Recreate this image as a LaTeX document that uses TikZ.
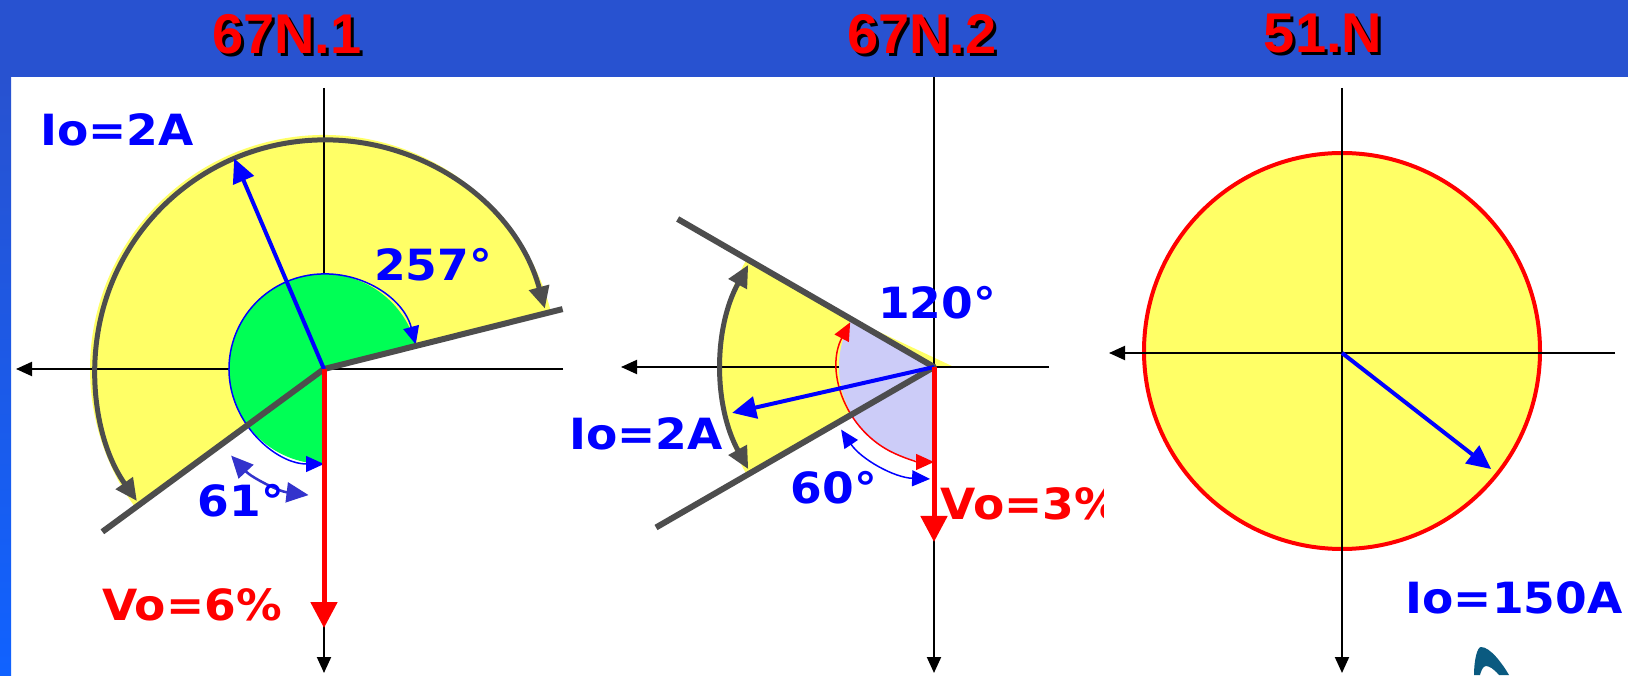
\documentclass[tikz,border=0pt]{standalone}
\usepackage{fontspec}
\usepackage{tikz}
\usetikzlibrary{arrows.meta, calc}
\newfontfamily\lblfont{DejaVu Sans}[FakeStretch=1.06]
\newfontfamily\ttlfont{Liberation Sans}
\definecolor{hdrblue}{RGB}{40, 82, 208}
\definecolor{edgeblue}{RGB}{16, 98, 255}
\definecolor{zoneyel}{RGB}{255, 255, 102}
\definecolor{zonegrn}{RGB}{0, 255, 85}
\definecolor{zonelav}{RGB}{204, 204, 248}
\definecolor{bndgray}{RGB}{77, 77, 77}
\definecolor{arcblue}{RGB}{51, 51, 204}
\definecolor{logoteal}{RGB}{10, 90, 128}
\tikzset{
  axisline/.style={draw=black, line width=2pt, -{Triangle[length=16pt, width=14pt]}},
  bound/.style={draw=bndgray, line width=6pt, line join=round},
  sweep/.style={draw=bndgray, line width=5pt,
    {Triangle[length=22pt, width=20pt]}-{Triangle[length=22pt, width=20pt]}},
  vecI/.style={draw=blue, line width=4pt, -{Triangle[length=24pt, width=22pt]}},
  vecV/.style={draw=red, line width=5pt, -{Triangle[length=26pt, width=26pt]}},
  thin arc/.style={line width=1.5pt,
    {Triangle[length=18pt, width=16pt]}-{Triangle[length=18pt, width=16pt]}},
  wide arc/.style={line width=2.5pt,
    {Triangle[length=22pt, width=20pt]}-{Triangle[length=22pt, width=20pt]}},
  lbl/.style={font=\lblfont\bfseries\fontsize{43}{48}\selectfont, text=blue, inner sep=0pt},
  ttl/.style={font=\ttlfont\bfseries\fontsize{56}{60}\selectfont, text=red, inner sep=0pt},
  ttlshadow/.style={ttl, text=black},
}

\begin{document}
\begin{tikzpicture}[x=1pt, y=1pt]

\fill[white] (0,0) rectangle (1628,675);
\useasboundingbox (0,0) rectangle (1628,675);
\shade[top color=hdrblue, bottom color=edgeblue] (0,0) rectangle (11,598);
\fill[hdrblue] (0,598) rectangle (1628,675);

\node[ttlshadow] (t1s) at (290,638) {67N.1};
\node[ttl] (t1) at (287,641) {67N.1};
\node[ttlshadow] (t2s) at (925,638) {67N.2};
\node[ttl] (t2) at (922,641) {67N.2};
\node[ttlshadow] (t3s) at (1326,638) {51.N};
\node[ttl] (t3) at (1323,641) {51.N};

% 67N.1
\coordinate (o1) at (324,306);
\coordinate (o1n) at (324,587);
\coordinate (o1s) at (324,2);
\coordinate (o1e) at (563,306);
\coordinate (o1w) at (16,306);
\coordinate (g1a) at ([shift={(14.1:246pt)}]o1);
\coordinate (g1b) at ([shift={(216.3:275pt)}]o1);
\coordinate (i1) at ([shift={(113.1:229pt)}]o1);
\coordinate (v1) at (324,47);

\fill[zoneyel] (o1) -- ([shift={(14.1:234pt)}]o1) arc[start angle=14.1, end angle=216.3, radius=234pt] -- cycle;
\draw[axisline] (o1n) -- (o1s);
\draw[axisline] (o1e) -- (o1w);
\fill[zonegrn] (o1) -- ([shift={(14.1:95pt)}]o1) arc[start angle=14.1, end angle=270, radius=95pt] -- cycle;
\draw[thin arc, blue] ([shift={(15:95pt)}]o1) arc[start angle=15, end angle=270, radius=95pt];
\draw[sweep] ([shift={(15.3:229pt)}]o1) arc[start angle=15.3, end angle=215.2, radius=229pt];
\draw[bound] (g1a) -- (o1) -- (g1b);
\draw[vecI] (o1) -- (i1);
\draw[vecV] (o1) -- (v1);
\draw[wide arc, arcblue] ([shift={(223:127pt)}]o1) arc[start angle=223, end angle=263, radius=127pt];

\node[lbl] (io1) at (117,545) {Io=2A};
\node[lbl] (ang1) at (433,410) {257°};
\node[lbl] (ang1b) at (241,174) {61°};
\node[lbl, text=red] (vo1) at (192,70) {Vo=6\%};

% 67N.2
\coordinate (o2) at (934,308);
\coordinate (o2n) at (934,598);
\coordinate (o2s) at (934,2);
\coordinate (o2e) at (1049,308);
\coordinate (o2w) at (621,308);
\coordinate (g2a) at ([shift={(150:296pt)}]o2);
\coordinate (g2b) at ([shift={(210:321pt)}]o2);
\coordinate (i2) at ([shift={(192.8:207pt)}]o2);
\coordinate (v2) at (934,133);

\fill[zoneyel] (o2) -- ([shift={(150:216pt)}]o2) arc[start angle=150, end angle=210, radius=216pt] -- cycle;
\fill[zoneyel] (o2) -- ++(20,0) -- ([shift={(150:100pt)}]o2) -- cycle;
\draw[axisline] (o2n) -- (o2s);
\draw[axisline] (o2e) -- (o2w);
\fill[zonelav] (o2) -- ([shift={(150:95pt)}]o2) arc[start angle=150, end angle=270, radius=95pt] -- cycle;
\draw[thin arc, red] ([shift={(152:95pt)}]o2) arc[start angle=152, end angle=270, radius=95pt];
\draw[sweep] ([shift={(151.2:212pt)}]o2) arc[start angle=151.2, end angle=208.8, radius=212pt];
\draw[bound] (g2a) -- (o2) -- (g2b);
\draw[vecI] (o2) -- (i2);
\draw[vecV] (o2) -- (v2);
\draw[thin arc, blue] ([shift={(214:112pt)}]o2) arc[start angle=214, end angle=268, radius=112pt];

\node[lbl] (ang2) at (937,372) {120°};
\node[lbl] (ang2b) at (834,187) {60°};
\node[lbl] (io2) at (646,241) {Io=2A};
\begin{scope}
\clip (900,100) rectangle (1103,250);
\node[lbl, text=red, anchor=west] (vo2) at (940,171) {Vo=3\%};
\end{scope}

% 51.N
\coordinate (o3) at (1342,322);
\coordinate (o3n) at (1342,587);
\coordinate (o3s) at (1342,2);
\coordinate (o3e) at (1615,322);
\coordinate (o3w) at (1109,322);
\coordinate (i3) at ([shift={(-37.9:189pt)}]o3);

\node[circle, draw=red, fill=zoneyel, line width=4pt, minimum size=396pt, inner sep=0pt] (ring) at (1342,324) {};
\draw[axisline] (o3n) -- (o3s);
\draw[axisline] (o3e) -- (o3w);
\draw[vecI] (o3) -- (i3);

\node[lbl] (io3) at (1514,77) {Io=150A};

\fill[logoteal] (1474,0) .. controls (1474,14) and (1477,28) .. (1481,28)
  .. controls (1490,28) and (1502,12) .. (1509,0) -- (1499,0)
  .. controls (1494,6) and (1489,9) .. (1486,9) .. controls (1483,9) and (1481,4) .. (1480,0) -- cycle;

\end{tikzpicture}
\end{document}
